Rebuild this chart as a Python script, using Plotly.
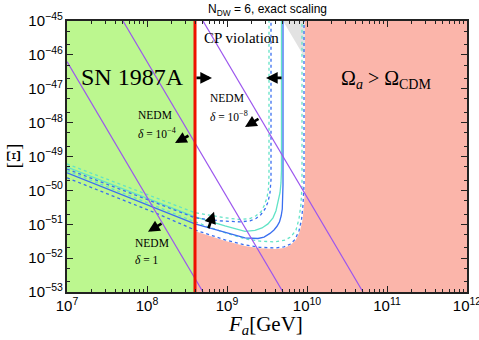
import numpy as np
import plotly.graph_objects as go

# axis extent (log10)
x_range = [7, 12]
y_range = [-53, -45]

# excluded regions (log10 F_a)
sn_bound = 8.6          # SN 1987A bound, red line

# gray corner triangle (log10 F_a, log10 Xi)
gray_logF = [9.70, 9.975, 9.975]
gray_logXi = [-45.0, -45.0, -46.09]

# CP-violation curves (log10 F_a, log10 Xi)
blue_logF = [7.0, 8.10, 8.60, 9.225, 9.3125, 9.3875, 9.4625, 9.5375, 9.5875, 9.625,
             9.656, 9.6775, 9.691, 9.697, 9.70, 9.70]
blue_logXi = [-49.48, -50.52, -50.99, -51.40, -51.42, -51.42, -51.38, -51.27, -51.17, -51.06,
              -50.93, -50.75, -50.55, -50.28, -49.84, -45.0]

blue_in_logF = [7.0, 8.10, 8.60, 8.9125, 9.1625, 9.2875, 9.3625, 9.425, 9.475, 9.5125,
                9.5375, 9.55, 9.55]
blue_in_logXi = [-49.37, -50.37, -50.81, -50.90, -50.93, -50.90, -50.83, -50.71, -50.55, -50.34,
                 -50.07, -49.69, -45.0]

blue_out_logF = [7.0, 8.10, 8.60, 8.975, 9.225, 9.4125, 9.60, 9.7125, 9.7875, 9.85,
                 9.90, 9.93125, 9.95, 9.9625, 9.9625]
blue_out_logXi = [-49.63, -50.66, -51.17, -51.46, -51.61, -51.68, -51.70, -51.67, -51.59, -51.45,
                  -51.19, -50.87, -50.43, -49.84, -45.0]

cyan_logF = [7.0, 8.10, 8.60, 8.975, 9.225, 9.35, 9.4375, 9.5125, 9.575, 9.6125,
             9.6375, 9.6625, 9.675, 9.681, 9.681]
cyan_logXi = [-49.31, -50.31, -50.78, -51.05, -51.21, -51.18, -51.11, -50.99, -50.81, -50.60,
              -50.37, -50.07, -49.78, -49.40, -45.0]

cyan_in_logF = [7.0, 8.10, 8.60, 8.975, 9.1625, 9.2875, 9.3625, 9.425, 9.4625, 9.50,
                9.519, 9.525, 9.525]
cyan_in_logXi = [-49.22, -50.22, -50.66, -50.81, -50.86, -50.83, -50.75, -50.63, -50.46, -50.22,
                 -49.93, -49.54, -45.0]

cyan_out_logF = [7.0, 8.10, 8.60, 8.975, 9.225, 9.4125, 9.60, 9.725, 9.80, 9.8625,
                 9.90, 9.925, 9.9375, 9.9375]
cyan_out_logXi = [-49.42, -50.46, -50.93, -51.25, -51.43, -51.50, -51.52, -51.47, -51.37, -51.17,
                  -50.84, -50.40, -49.84, -45.0]

# NEDM lines: end points (log10 F_a, log10 Xi)
nedm_lines = {
    '1':     ([7.0, 8.7], [-46.2, -53.0]),
    '1e-4':  ([7.7, 9.7], [-45.0, -53.0]),
    '1e-8':  ([8.7, 10.7], [-45.0, -53.0]),
}

GREEN = '#bcf78f'
PINK = '#fbb5aa'
BLUE = '#3a6ff0'
CYAN = '#62e3c6'
PURPLE = '#9b55ee'
SERIF = 'Liberation Serif'
SANS = 'Liberation Sans'


def p(v):
    return [10 ** t for t in v]


fig = go.Figure()

# background regions
fig.add_trace(go.Scatter(
    x=p([x_range[0], sn_bound, sn_bound, x_range[0]]),
    y=p([y_range[0], y_range[0], y_range[1], y_range[1]]),
    fill='toself', fillcolor=GREEN, mode='none', hoverinfo='skip'))
fig.add_trace(go.Scatter(
    x=p([sn_bound, x_range[1], x_range[1], sn_bound]),
    y=p([y_range[0], y_range[0], y_range[1], y_range[1]]),
    fill='toself', fillcolor=PINK, mode='none', hoverinfo='skip'))

# allowed (white) pocket above the outer dotted curve, right of SN bound
wf = [f for f in blue_out_logF if f >= sn_bound]
wx = blue_out_logXi[len(blue_out_logF) - len(wf):]
fig.add_trace(go.Scatter(
    x=p(wf + [sn_bound]), y=p(wx + [y_range[1]]),
    fill='toself', fillcolor='white', mode='lines',
    line=dict(color='white', width=2), hoverinfo='skip'))

fig.add_trace(go.Scatter(
    x=p(gray_logF), y=p(gray_logXi), fill='toself', fillcolor='#e2e2e2',
    mode='none', hoverinfo='skip'))

# curves
curves = [
    (cyan_in_logF, cyan_in_logXi, CYAN, 'dot'),
    (cyan_out_logF, cyan_out_logXi, CYAN, 'dot'),
    (cyan_logF, cyan_logXi, CYAN, 'solid'),
    (blue_in_logF, blue_in_logXi, BLUE, 'dot'),
    (blue_out_logF, blue_out_logXi, BLUE, 'dot'),
    (blue_logF, blue_logXi, BLUE, 'solid'),
]
for lf, lx, col, dash in curves:
    fig.add_trace(go.Scatter(x=p(lf), y=p(lx), mode='lines',
                             line=dict(color=col, width=1.3, dash=dash)))

for lf, lx in nedm_lines.values():
    fig.add_trace(go.Scatter(x=p(lf), y=p(lx), mode='lines',
                             line=dict(color=PURPLE, width=1.2)))

fig.add_trace(go.Scatter(x=p([sn_bound, sn_bound]), y=p(y_range), mode='lines',
                         line=dict(color='#ee1100', width=3)))

annotations = []


def txt(x, y, s, size, anchor='center', font=SERIF):
    annotations.append(dict(x=x, y=y, text=s, showarrow=False, xanchor=anchor,
                            yanchor='middle', font=dict(family=font, size=size, color='black')))


def arrow(x, y, ax, ay):
    annotations.append(dict(x=x, y=y, ax=ax, ay=ay, text='', showarrow=True,
                            arrowhead=2, arrowsize=0.9, arrowwidth=2.6, arrowcolor='black'))


txt(7.8125, -46.65, 'SN 1987A', 24)
txt(9.175, -45.50, 'CP violation', 15)
txt(10.99, -46.74, 'Ω<sub><i>a</i></sub> > Ω<sub>CDM</sub>', 20)
txt(7.8625, -47.77, 'NEDM', 11.5, 'left')
txt(7.8625, -48.30, '<i>δ</i> = 10<sup>−4</sup>', 11.5, 'left')
txt(8.7625, -47.27, 'NEDM', 11.5, 'left')
txt(8.7625, -47.80, '<i>δ</i> = 10<sup>−8</sup>', 11.5, 'left')
txt(7.825, -51.55, 'NEDM', 11.5, 'left')
txt(7.825, -52.05, '<i>δ</i> = 1', 11.5, 'left')

arrow(8.8125, -46.68, -17, 0)
arrow(9.4875, -46.68, 17, 0)
arrow(8.35, -48.60, 15, -8)
arrow(9.225, -48.13, 15, -9)
arrow(8.0125, -51.22, 15, -9)
arrow(8.8375, -50.63, -6, 18)

# titles placed by hand (paper coords)
annotations.append(dict(x=0.5, y=1.041, xref='paper', yref='paper', showarrow=False,
                        text='N<sub>DW</sub> = 6, exact scaling', xanchor='center', yanchor='middle',
                        font=dict(family=SANS, size=12, color='black')))
annotations.append(dict(x=0.495, y=-0.122, xref='paper', yref='paper', showarrow=False,
                        text='<i>F</i><sub><i>a</i></sub>[GeV]', xanchor='center', yanchor='middle',
                        font=dict(family=SERIF, size=21, color='black')))
annotations.append(dict(x=-0.135, y=0.5, xref='paper', yref='paper', showarrow=False,
                        text='[Ξ]', textangle=-90, xanchor='center', yanchor='middle',
                        font=dict(family=SERIF, size=19, color='black')))

axis_common = dict(
    type='log', showgrid=False, zeroline=False, showline=True, linecolor='#222',
    linewidth=1.5, mirror='ticks', ticks='inside', ticklen=6, tickcolor='#222',
    dtick=1, exponentformat='power', automargin=False, ticklabeloverflow='allow',
    tickfont=dict(family=SANS, size=12, color='black'),
)

fig.update_layout(
    width=479, height=340,
    margin=dict(l=67, r=12, t=21, b=48),
    paper_bgcolor='white', plot_bgcolor='white',
    showlegend=False,
    xaxis=dict(range=[x_range[0] - 1e-4, x_range[1] + 1e-4],
               minor=dict(ticks='inside', ticklen=3, dtick='D1', tickcolor='#222'),
               **axis_common),
    yaxis=dict(range=y_range,
               minor=dict(ticks='inside', ticklen=3, dtick='D2', tickcolor='#222'),
               **axis_common),
    annotations=annotations,
)

# drop the default 8px page margin so the figure sits at the window corner
fig.write_html("out.html", config={'displayModeBar': False},
               post_script="document.body.style.margin='0';")
